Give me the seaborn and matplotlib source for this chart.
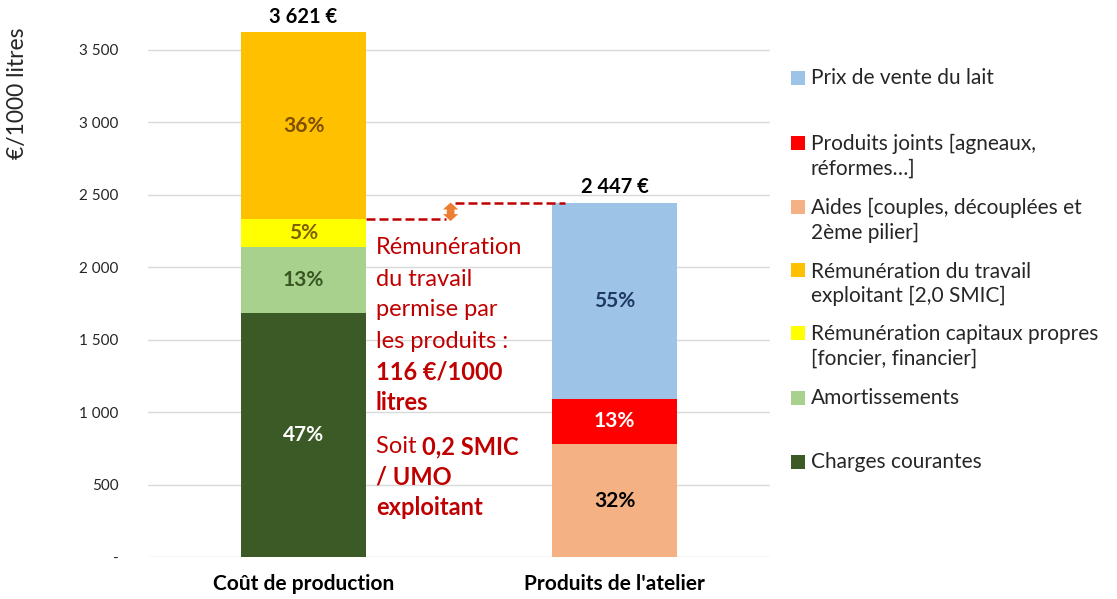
import numpy as np
import pandas as pd
import matplotlib
matplotlib.use("Agg")
import matplotlib.pyplot as plt
import seaborn as sns
from matplotlib.patches import Rectangle
from matplotlib.ticker import FuncFormatter

# données (€/1000 litres)
categories = ["Coût de production", "Produits de l'atelier"]

composants_cout = ["Charges courantes", "Amortissements",
                   "Rémunération capitaux propres", "Rémunération travail exploitant"]
valeurs_cout = [1684, 456, 191, 1290]
couleurs_cout = ["#3B5A25", "#A9D18E", "#FFFF00", "#FFC000"]
couleurs_pct_cout = ["white", "#385723", "#7F6000", "#7F4F00"]

composants_produits = ["Aides", "Produits joints", "Prix de vente du lait"]
valeurs_produits = [780, 311, 1356]
couleurs_produits = ["#F4B183", "#FF0000", "#9DC3E6"]
couleurs_pct_produits = ["black", "white", "#1F3864"]

legende_labels = ["Prix de vente du lait",
                  "Produits joints [agneaux,\nréformes…]",
                  "Aides [couples, découplées et\n2ème pilier]",
                  "Rémunération du travail\nexploitant [2,0 SMIC]",
                  "Rémunération capitaux propres\n[foncier, financier]",
                  "Amortissements",
                  "Charges courantes"]
legende_couleurs = ["#9DC3E6", "#FF0000", "#F4B183", "#FFC000", "#FFFF00", "#A9D18E", "#3B5A25"]

yticks = [0, 500, 1000, 1500, 2000, 2500, 3000, 3500]

rows = []
for cat, comps, vals, cols, pcols in [
        (categories[0], composants_cout, valeurs_cout, couleurs_cout, couleurs_pct_cout),
        (categories[1], composants_produits, valeurs_produits, couleurs_produits, couleurs_pct_produits)]:
    base = 0
    total = sum(vals)
    for c, v, col, pc in zip(comps, vals, cols, pcols):
        rows.append(dict(categorie=cat, composant=c, valeur=v, base=base,
                         total=total, couleur=col, pct_couleur=pc))
        base += v
df = pd.DataFrame(rows)

sns.set_theme(style="white")
plt.rcParams["font.family"] = ["Lato", "DejaVu Sans"]

W, H = 1117, 599
fig = plt.figure(figsize=(W / 100, H / 100), dpi=100)
ax = fig.add_axes([148 / W, 42 / H, 622 / W, 536 / H])

for _, r in df.iterrows():
    sns.barplot(x=[r.categorie], y=[r.valeur], order=categories, bottom=r.base,
                color=r.couleur, saturation=1, width=0.4, errorbar=None,
                linewidth=0, ax=ax)
    i = categories.index(r.categorie)
    ax.text(i, r.base + r.valeur / 2, f"{round(100 * r.valeur / r.total)}%",
            ha="center", va="center", fontsize=15, fontweight="bold", color=r.pct_couleur)

def fmt_milliers(v):
    return f"{v:,.0f}".replace(",", " ")

for i, cat in enumerate(categories):
    tot = df.loc[df.categorie == cat, "valeur"].sum()
    ax.annotate(fmt_milliers(tot) + " €", xy=(i, tot), xytext=(0, 4),
                textcoords="offset points", ha="center", va="bottom",
                fontsize=14.5, fontweight="bold", color="black")

ax.set_xlim(-0.5, 1.5)
ax.set_ylim(0, 3700)
ax.set_yticks(yticks)
ax.yaxis.set_major_formatter(FuncFormatter(lambda v, p: "-" if v == 0 else fmt_milliers(v)))
ax.yaxis.grid(True, color="#D9D9D9", lw=1)
ax.set_axisbelow(True)
for s in ax.spines.values():
    s.set_visible(False)
ax.tick_params(axis="y", length=0, pad=21, labelsize=11, labelcolor="#262626")
ax.tick_params(axis="x", length=0, pad=12, labelsize=15, labelcolor="black")
for lab in ax.get_xticklabels():
    lab.set_fontweight("bold")
ax.set_xlabel("")
ax.set_ylabel("")

fig.text(18 / W, 1 - 93 / H, "€/1000 litres", rotation=90, ha="center", va="center",
         fontsize=16.5, color="#262626")

# écart entre coût (hors rémunération du travail) et produits
y_bas = sum(valeurs_cout[:3])
y_haut = sum(valeurs_produits)
rouge = "#C00000"
ax.plot([0.2, 0.458], [y_bas, y_bas], color=rouge, lw=1.8, ls=(0, (3.6, 1.6)))
ax.plot([0.487, 0.841], [y_haut, y_haut], color=rouge, lw=1.8, ls=(0, (3.6, 1.6)))
y_mil = (y_bas + y_haut) / 2
fleche = dict(arrowstyle="simple,head_length=0.5,head_width=1.1,tail_width=0.55",
              mutation_scale=10, color="#ED7D31", lw=0, shrinkA=0, shrinkB=0)
ax.annotate("", xy=(0.473, y_haut), xytext=(0.473, y_mil), arrowprops=fleche)
ax.annotate("", xy=(0.473, y_bas - 12), xytext=(0.473, y_mil), arrowprops=fleche)

# texte explicatif
x_txt = 0.233
def y_px(py):
    return (557 - py) * 500 / 72.43

fs_txt = 17
lignes = [("Rémunération", "normal", 248), ("du travail", "normal", 280),
          ("permise par", "normal", 310), ("les produits :", "normal", 342),
          ("116 €/1000", "bold", 372), ("litres", "bold", 403),
          ("/ UMO", "bold", 477), ("exploitant", "bold", 508)]
for txt, w, py in lignes:
    ax.text(x_txt, y_px(py), txt, ha="left", va="center", fontsize=fs_txt,
            fontweight=w, color=rouge)
t = ax.text(x_txt, y_px(447), "Soit ", ha="left", va="center", fontsize=fs_txt, color=rouge)
ax.annotate("0,2 SMIC", xy=(1, 0.5), xycoords=t, ha="left", va="center",
            fontsize=fs_txt, fontweight="bold", color=rouge)

# légende
leg_y_txt = [78, 156.5, 220.5, 284, 346.5, 398, 462]
leg_y_box = [78, 143, 207, 270, 333, 398, 462]
for lab, col, yt, yb in zip(legende_labels, legende_couleurs, leg_y_txt, leg_y_box):
    fig.add_artist(Rectangle((791 / W, 1 - (yb + 7) / H), 14 / W, 14 / H,
                             transform=fig.transFigure, facecolor=col, edgecolor="none"))
    fig.text(811 / W, 1 - yt / H, lab, ha="left", va="center", fontsize=15,
             linespacing=1.3, color="#262626")

fig.savefig("out.png", dpi=100)
